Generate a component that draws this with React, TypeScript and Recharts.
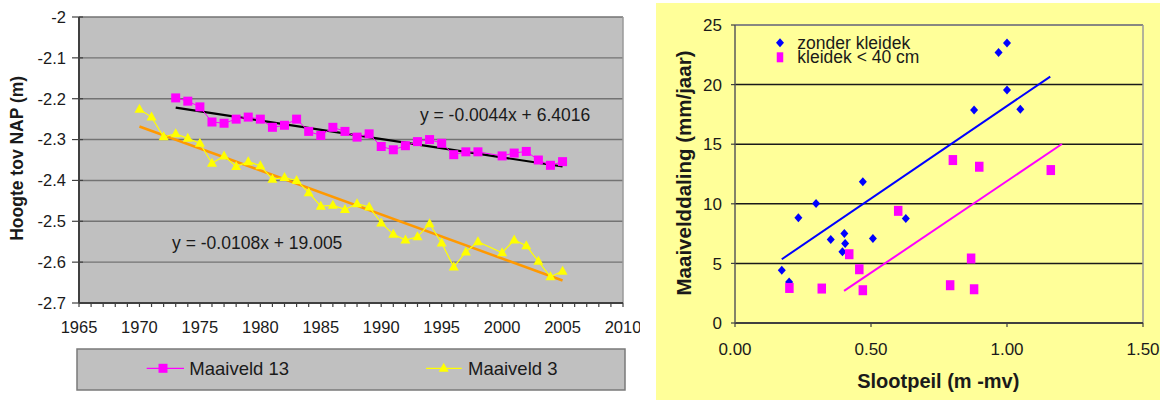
import React from 'react';
import {
  ScatterChart,
  Scatter,
  XAxis,
  YAxis,
  CartesianGrid,
  ReferenceLine,
  ReferenceDot,
} from 'recharts';

const FONT = '"Liberation Sans", Arial, sans-serif';
const TEXT = '#1a1a1a';

// links: maaiveldhoogte t.o.v. NAP per jaar (1999 ontbreekt)
const JAREN_13 = [
  1973, 1974, 1975, 1976, 1977, 1978, 1979, 1980, 1981, 1982, 1983, 1984, 1985, 1986, 1987, 1988,
  1989, 1990, 1991, 1992, 1993, 1994, 1995, 1996, 1997, 1998, 2000, 2001, 2002, 2003, 2004, 2005,
];
const HOOGTE_13 = [
  -2.198, -2.206, -2.22, -2.257, -2.26, -2.25, -2.245, -2.25, -2.27, -2.265, -2.25, -2.28, -2.29,
  -2.27, -2.28, -2.294, -2.286, -2.317, -2.325, -2.315, -2.305, -2.3, -2.309, -2.337, -2.33, -2.33,
  -2.34, -2.333, -2.329, -2.35, -2.363, -2.354,
];
const JAREN_3 = [
  1970, 1971, 1972, 1973, 1974, 1975, 1976, 1977, 1978, 1979, 1980, 1981, 1982, 1983, 1984, 1985,
  1986, 1987, 1988, 1989, 1990, 1991, 1992, 1993, 1994, 1995, 1996, 1997, 1998, 2000, 2001, 2002,
  2003, 2004, 2005,
];
const HOOGTE_3 = [
  -2.226, -2.245, -2.293, -2.286, -2.297, -2.309, -2.358, -2.34, -2.366, -2.354, -2.364, -2.397,
  -2.393, -2.4, -2.43, -2.463, -2.461, -2.471, -2.457, -2.465, -2.504, -2.532, -2.546, -2.538,
  -2.506, -2.553, -2.612, -2.575, -2.55, -2.577, -2.546, -2.56, -2.598, -2.636, -2.622,
];
// trendlijnen: begin- en eindpunt
const TREND_13 = [
  { x: 1973, y: -2.222 },
  { x: 2005, y: -2.366 },
];
const TREND_3 = [
  { x: 1970, y: -2.268 },
  { x: 2005, y: -2.645 },
];
const FORMULE_13 = 'y = -0.0044x + 6.4016';
const FORMULE_13_POS = { x: 1993.2, y: -2.24 };
const FORMULE_3 = 'y = -0.0108x + 19.005';
const FORMULE_3_POS = { x: 1972.7, y: -2.553 };
const JAAR_TICKS = Array.from({ length: 46 }, (_, i) => 1965 + i);
const HOOGTE_TICKS = [-2, -2.1, -2.2, -2.3, -2.4, -2.5, -2.6, -2.7];

// rechts: maaivelddaling tegen slootpeil
const ZONDER_X = [0.172, 0.199, 0.233, 0.298, 0.352, 0.395, 0.402, 0.405, 0.47, 0.507, 0.628, 0.879, 0.969, 1.0, 1.0, 1.049];
const ZONDER_Y = [4.43, 3.45, 8.82, 10.03, 7.0, 5.97, 7.51, 6.67, 11.85, 7.09, 8.77, 17.87, 22.7, 23.48, 19.55, 17.93];
const KLEI_X = [0.2, 0.319, 0.42, 0.457, 0.47, 0.6, 0.791, 0.801, 0.868, 0.879, 0.898, 1.161];
const KLEI_Y = [2.94, 2.89, 5.77, 4.51, 2.75, 9.41, 3.17, 13.67, 5.41, 2.83, 13.11, 12.83];
const TREND_ZONDER = [
  { x: 0.172, y: 5.35 },
  { x: 1.159, y: 20.67 },
];
const TREND_KLEI = [
  { x: 0.401, y: 2.69 },
  { x: 1.202, y: 15.02 },
];
const PEIL_TICKS = [0, 0.5, 1, 1.5];
const DALING_TICKS = [0, 5, 10, 15, 20, 25];

const toPoints = (xs: number[], ys: number[]) => xs.map((x, i) => ({ x, y: ys[i] }));

const data13 = toPoints(JAREN_13, HOOGTE_13);
const data3 = toPoints(JAREN_3, HOOGTE_3);
const dataZonder = toPoints(ZONDER_X, ZONDER_Y);
const dataKlei = toPoints(KLEI_X, KLEI_Y);

const square = (size: number, h: number, color: string) => (p: any) => (
  <rect x={p.cx - size / 2} y={p.cy - h / 2} width={size} height={h} fill={color} />
);
const triangle = (color: string) => (p: any) => (
  <path d={`M${p.cx},${p.cy - 5.5}L${p.cx - 5},${p.cy + 3.5}L${p.cx + 5},${p.cy + 3.5}Z`} fill={color} />
);
const diamond = (color: string) => (p: any) => (
  <path d={`M${p.cx},${p.cy - 4.5}L${p.cx + 4},${p.cy}L${p.cx},${p.cy + 4.5}L${p.cx - 4},${p.cy}Z`} fill={color} />
);

function JaarTick({ x, y, payload }: any) {
  const v = payload.value;
  return (
    <g>
      <line x1={x} x2={x} y1={y} y2={y + 4} stroke="#404040" strokeWidth={1.2} />
      {v % 5 === 0 && (
        <text x={x} y={y + 30} textAnchor="middle" fontSize={16.5} fill={TEXT} fontFamily={FONT}>
          {v}
        </text>
      )}
    </g>
  );
}

function HoogteTick({ x, y, payload }: any) {
  return (
    <g>
      <line x1={x - 7} x2={x + 4} y1={y} y2={y} stroke="#404040" strokeWidth={1.2} />
      <text x={x - 13} y={y + 5.9} textAnchor="end" fontSize={16.5} fill={TEXT} fontFamily={FONT}>
        {String(payload.value)}
      </text>
    </g>
  );
}

function PeilTick({ x, y, payload }: any) {
  return (
    <g>
      <line x1={x} x2={x} y1={y} y2={y + 4} stroke="#404040" strokeWidth={1.2} />
      <text x={x} y={y + 31.7} textAnchor="middle" fontSize={17} fill={TEXT} fontFamily={FONT}>
        {payload.value.toFixed(2)}
      </text>
    </g>
  );
}

function DalingTick({ x, y, payload }: any) {
  return (
    <g>
      <line x1={x - 4} x2={x} y1={y} y2={y} stroke="#404040" strokeWidth={1.2} />
      <text x={x - 13} y={y + 6.1} textAnchor="end" fontSize={17} fill={TEXT} fontFamily={FONT}>
        {payload.value}
      </text>
    </g>
  );
}

const eqLabel = (value: string) => ({
  value,
  position: 'right' as const,
  offset: 0,
  fontSize: 17.5,
  fill: TEXT,
  fontFamily: FONT,
});

function HoogteChart() {
  return (
    <ScatterChart width={640} height={345} margin={{ top: 17, right: 17, bottom: 0, left: 0 }}>
      <CartesianGrid fill="#C0C0C0" vertical={false} stroke="#737373" strokeWidth={1.4} />
      <XAxis
        type="number"
        dataKey="x"
        domain={[1965, 2010]}
        ticks={JAAR_TICKS}
        interval={0}
        height={42}
        tickSize={0}
        tickMargin={0}
        tickLine={false}
        axisLine={{ stroke: '#404040', strokeWidth: 2 }}
        tick={<JaarTick />}
      />
      <YAxis
        type="number"
        dataKey="y"
        domain={[-2.7, -2]}
        ticks={HOOGTE_TICKS}
        interval={0}
        width={79}
        tickSize={0}
        tickMargin={0}
        tickLine={false}
        axisLine={{ stroke: '#404040', strokeWidth: 2 }}
        tick={<HoogteTick />}
      />
      <ReferenceLine x={2010} stroke="#9a9a9a" strokeWidth={1.5} />
      <Scatter
        name="Maaiveld 13"
        data={data13}
        line={{ stroke: '#FF00FF', strokeWidth: 1 }}
        lineType="joint"
        shape={square(9, 9, '#FF00FF')}
        isAnimationActive={false}
      />
      <Scatter
        name="Maaiveld 3"
        data={data3}
        line={{ stroke: '#FFFF00', strokeWidth: 1.2 }}
        lineType="joint"
        shape={triangle('#FFFF00')}
        isAnimationActive={false}
      />
      <ReferenceLine segment={TREND_13} stroke="#000000" strokeWidth={2.2} ifOverflow="visible" />
      <ReferenceLine segment={TREND_3} stroke="#FF9900" strokeWidth={2.5} ifOverflow="visible" />
      <ReferenceDot x={FORMULE_13_POS.x} y={FORMULE_13_POS.y} r={0} fill="none" stroke="none" label={eqLabel(FORMULE_13)} />
      <ReferenceDot x={FORMULE_3_POS.x} y={FORMULE_3_POS.y} r={0} fill="none" stroke="none" label={eqLabel(FORMULE_3)} />
    </ScatterChart>
  );
}

function DalingChart() {
  return (
    <ScatterChart width={504} height={397} margin={{ top: 22, right: 17, bottom: 0, left: 0 }}>
      <CartesianGrid fill="#FFFF99" vertical={false} stroke="#1a1a1a" strokeWidth={1.5} />
      <XAxis
        type="number"
        dataKey="x"
        domain={[0, 1.5]}
        ticks={PEIL_TICKS}
        interval={0}
        height={77}
        tickSize={0}
        tickMargin={0}
        tickLine={false}
        axisLine={{ stroke: '#404040', strokeWidth: 2 }}
        tick={<PeilTick />}
      />
      <YAxis
        type="number"
        dataKey="y"
        domain={[0, 25]}
        ticks={DALING_TICKS}
        interval={0}
        width={79}
        tickSize={0}
        tickMargin={0}
        tickLine={false}
        axisLine={{ stroke: '#5a5a5a', strokeWidth: 1.5 }}
        tick={<DalingTick />}
      />
      <ReferenceLine y={25} stroke="#9a9a9a" strokeWidth={1.5} />
      <ReferenceLine x={1.5} stroke="#9a9a9a" strokeWidth={1.5} />
      <Scatter name="zonder kleidek" data={dataZonder} shape={diamond('#0000FF')} isAnimationActive={false} />
      <Scatter name="kleidek < 40 cm" data={dataKlei} shape={square(8.5, 10, '#FF00FF')} isAnimationActive={false} />
      <ReferenceLine segment={TREND_ZONDER} stroke="#0000FF" strokeWidth={2} ifOverflow="visible" />
      <ReferenceLine segment={TREND_KLEI} stroke="#FF00FF" strokeWidth={2} ifOverflow="visible" />
    </ScatterChart>
  );
}

export default function App() {
  return (
    <div
      style={{
        position: 'absolute',
        left: 0,
        top: 0,
        width: 1160,
        height: 402,
        background: '#ffffff',
        fontFamily: FONT,
        overflow: 'hidden',
      }}
    >
      <div style={{ position: 'absolute', left: 0, top: 0 }}>
        <HoogteChart />
      </div>
      <div style={{ position: 'absolute', left: 656, top: 3, width: 504, height: 397, background: '#FFFF99' }}>
        <DalingChart />
      </div>
      <svg
        width={1160}
        height={402}
        style={{ position: 'absolute', left: 0, top: 0, pointerEvents: 'none' }}
        fontFamily={FONT}
      >
        {/* asstitels */}
        <text x={17.5} y={158.3} transform="rotate(-90 17.5 158.3)" textAnchor="middle" dominantBaseline="central" fontSize={17.5} fontWeight="bold" fill={TEXT}>
          Hoogte tov NAP (m)
        </text>
        <text x={683.5} y={173} transform="rotate(-90 683.5 173)" textAnchor="middle" dominantBaseline="central" fontSize={20.5} fontWeight="bold" fill={TEXT}>
          Maaivelddaling (mm/jaar)
        </text>
        <text x={938.3} y={380.7} textAnchor="middle" dominantBaseline="central" fontSize={20} fontWeight="bold" fill={TEXT}>
          Slootpeil (m -mv)
        </text>

        {/* legenda links */}
        <rect x={77} y={349} width={548} height={41} fill="#C0C0C0" stroke="#7a7a7a" strokeWidth={1.5} />
        <line x1={146.7} x2={184} y1={368.3} y2={368.3} stroke="#FF00FF" strokeWidth={1.2} />
        {square(9, 9, '#FF00FF')({ cx: 163, cy: 368.3 })}
        <text x={189.3} y={368.3} dominantBaseline="central" fontSize={18.5} fill={TEXT}>
          Maaiveld 13
        </text>
        <line x1={426} x2={461.7} y1={368.3} y2={368.3} stroke="#FFFF00" strokeWidth={1.2} />
        {triangle('#FFFF00')({ cx: 443.7, cy: 368.3 })}
        <text x={468} y={368.3} dominantBaseline="central" fontSize={18.5} fill={TEXT}>
          Maaiveld 3
        </text>

        {/* legenda rechts */}
        {diamond('#0000FF')({ cx: 780, cy: 42.7 })}
        <text x={797.3} y={42.7} dominantBaseline="central" fontSize={17.5} fill={TEXT}>
          zonder kleidek
        </text>
        {square(6.5, 10, '#FF00FF')({ cx: 780, cy: 57.3 })}
        <text x={797.3} y={57.3} dominantBaseline="central" fontSize={17.5} fill={TEXT}>
          kleidek &lt; 40 cm
        </text>
      </svg>
    </div>
  );
}
